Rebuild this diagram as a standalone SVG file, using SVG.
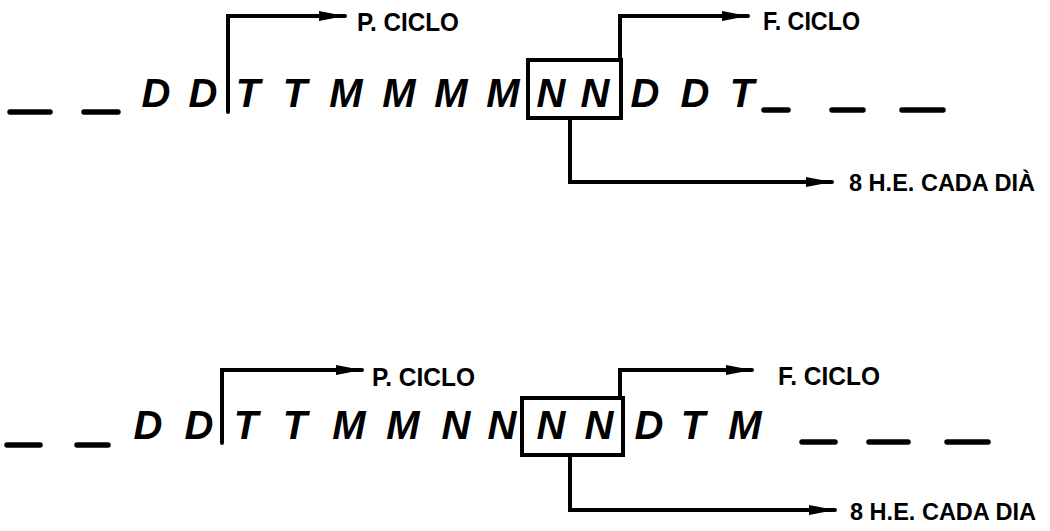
<svg xmlns="http://www.w3.org/2000/svg" width="1050" height="531" viewBox="0 0 1050 531">
<style>
.bg{fill:#fff}
.ln{fill:none;stroke:#000;stroke-width:4;stroke-linecap:round;stroke-linejoin:miter}
.ds{fill:none;stroke:#000;stroke-width:5.5;stroke-linecap:round}
.box{fill:none;stroke:#000;stroke-width:4}
.lt{font-family:"Liberation Sans",Arial,sans-serif;font-weight:bold;font-style:italic;font-size:40px;text-anchor:middle;fill:#000}
.lb{font-family:"Liberation Sans",Arial,sans-serif;font-weight:bold;font-size:26px;fill:#000}
.lc{font-family:"Liberation Sans",Arial,sans-serif;font-weight:bold;font-size:24px;fill:#000}
</style>
<defs>
<marker id="ah" markerUnits="userSpaceOnUse" markerWidth="30" markerHeight="14" refX="26" refY="7" orient="auto">
<path d="M0,2 L26,7 L0,12 Z" fill="#000"/>
</marker>
</defs>
<rect class="bg" x="0" y="0" width="1050" height="531"/>

<g id="row1">
<g id="r1-dashes">
<line class="ds" x1="10" y1="112" x2="50" y2="112"/>
<line class="ds" x1="84" y1="112" x2="118" y2="112"/>
<line class="ds" x1="764" y1="110" x2="788" y2="110"/>
<line class="ds" x1="832" y1="110" x2="863" y2="110"/>
<line class="ds" x1="902" y1="110" x2="943" y2="110"/>
</g>
<g id="r1-letters">
<text class="lt" x="156" y="107">D</text>
<text class="lt" x="203" y="107">D</text>
<text class="lt" x="248" y="107">T</text>
<text class="lt" x="295" y="107">T</text>
<text class="lt" x="346" y="107">M</text>
<text class="lt" x="399" y="107">M</text>
<text class="lt" x="451" y="107">M</text>
<text class="lt" x="503" y="107">M</text>
<text class="lt" x="551" y="107">N</text>
<text class="lt" x="595" y="107">N</text>
<text class="lt" x="645" y="107">D</text>
<text class="lt" x="695" y="107">D</text>
<text class="lt" x="742" y="107">T</text>
</g>
<rect id="r1-box" class="box" x="528" y="60" width="93" height="58"/>
<g id="r1-labels">
<text class="lb" x="357" y="31" textLength="102" lengthAdjust="spacingAndGlyphs">P. CICLO</text>
<text class="lb" x="763" y="30" textLength="97" lengthAdjust="spacingAndGlyphs">F. CICLO</text>
<text class="lc" x="849" y="191" textLength="186" lengthAdjust="spacingAndGlyphs">8 H.E. CADA DIÀ</text>
</g>
</g>

<g id="row2">
<g id="r2-dashes">
<line class="ds" x1="7" y1="445" x2="40" y2="445"/>
<line class="ds" x1="77" y1="445" x2="108" y2="445"/>
<line class="ds" x1="802" y1="442" x2="835" y2="442"/>
<line class="ds" x1="869" y1="442" x2="908" y2="442"/>
<line class="ds" x1="947" y1="442" x2="988" y2="442"/>
</g>
<g id="r2-letters">
<text class="lt" x="148" y="439">D</text>
<text class="lt" x="199" y="439">D</text>
<text class="lt" x="246" y="439">T</text>
<text class="lt" x="295" y="439">T</text>
<text class="lt" x="349" y="439">M</text>
<text class="lt" x="403" y="439">M</text>
<text class="lt" x="456" y="439">N</text>
<text class="lt" x="502" y="439">N</text>
<text class="lt" x="551" y="439">N</text>
<text class="lt" x="599" y="439">N</text>
<text class="lt" x="649" y="439">D</text>
<text class="lt" x="693" y="439">T</text>
<text class="lt" x="745" y="439">M</text>
</g>
<rect id="r2-box" class="box" x="522" y="398" width="101" height="57"/>
<g id="r2-labels">
<text class="lb" x="372" y="386" textLength="103" lengthAdjust="spacingAndGlyphs">P. CICLO</text>
<text class="lb" x="778" y="385" textLength="102" lengthAdjust="spacingAndGlyphs">F. CICLO</text>
<text class="lc" x="850" y="520" textLength="186" lengthAdjust="spacingAndGlyphs">8 H.E. CADA DIA</text>
</g>
</g>

<g id="connectors">
<path class="ln" d="M228,112 L228,16 L345,16" marker-end="url(#ah)"/>
<path class="ln" d="M620,60 L620,16 L748,16" marker-end="url(#ah)"/>
<path class="ln" d="M570,118 L570,182 L832,182" marker-end="url(#ah)"/>
<path class="ln" d="M222,443 L222,370 L362,370" marker-end="url(#ah)"/>
<path class="ln" d="M620,398 L620,370 L752,370" marker-end="url(#ah)"/>
<path class="ln" d="M570,455 L570,510 L835,510" marker-end="url(#ah)"/>
</g>
</svg>
